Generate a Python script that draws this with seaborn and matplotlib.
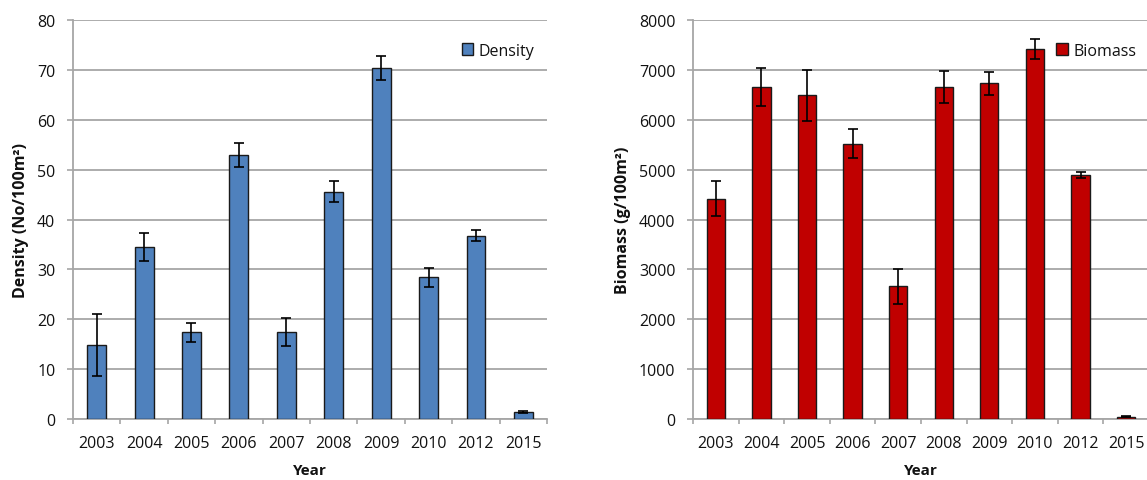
import matplotlib
matplotlib.use("Agg")
import matplotlib.pyplot as plt
import seaborn as sns
import pandas as pd
import numpy as np

years = ["2003", "2004", "2005", "2006", "2007", "2008", "2009", "2010", "2012", "2015"]
density = [14.8, 34.5, 17.4, 52.9, 17.4, 45.6, 70.3, 28.4, 36.7, 1.4]
density_err = [6.2, 2.8, 1.9, 2.35, 2.85, 2.1, 2.4, 1.85, 1.1, 0.25]
biomass = [4420, 6655, 6487, 5523, 2658, 6655, 6728, 7411, 4887, 47]
biomass_err = [355, 385, 520, 295, 355, 320, 225, 200, 60, 15]

sns.set_theme(style="white")
plt.rcParams["font.family"] = ["Open Sans", "DejaVu Sans"]

fig = plt.figure(figsize=(11.47, 4.81), dpi=100)
ax1 = fig.add_axes([0.0636, 0.1268, 0.4134, 0.8295])
ax2 = fig.add_axes([0.6042, 0.1268, 0.3975, 0.8295])

grid_c = "#a6a6a6"
text_c = "#111111"


def panel(ax, vals, errs, color, label, ymax, ystep, ylabel):
    df = pd.DataFrame({"Year": years, "Value": vals})
    sns.barplot(data=df, x="Year", y="Value", color=color, saturation=1,
                width=0.4, edgecolor="#1a1a1a", linewidth=1.0, ax=ax,
                label=label, zorder=3)
    ax.errorbar(np.arange(len(years)), vals, yerr=errs, fmt="none",
                ecolor="black", elinewidth=1.2, capsize=3.5, capthick=1.2,
                zorder=4)
    ax.set_xlim(-0.5, len(years) - 0.5)
    ax.set_ylim(0, ymax)
    ax.set_yticks(np.arange(0, ymax + 1, ystep))
    ax.yaxis.grid(True, color=grid_c, linewidth=1.3, zorder=0)
    ax.xaxis.grid(False)
    ax.set_axisbelow(True)
    for s in ["top", "right"]:
        ax.spines[s].set_visible(False)
    ax.spines["left"].set_color(grid_c)
    ax.spines["left"].set_linewidth(1.3)
    ax.spines["bottom"].set_color(grid_c)
    ax.spines["bottom"].set_linewidth(1.3)
    # category boundary ticks below the axis, labels centred on the bars
    ax.set_xticks(np.arange(len(years) + 1) - 0.5)
    ax.set_xticklabels([])
    ax.set_xticks(np.arange(len(years)), minor=True)
    ax.set_xticklabels(years, minor=True)
    ax.tick_params(axis="x", which="major", bottom=True, length=3.8,
                   width=1.2, color=grid_c, direction="out")
    ax.tick_params(axis="x", which="minor", bottom=True, length=0,
                   pad=11.5, labelsize=11.5, labelcolor=text_c)
    ax.tick_params(axis="y", left=True, length=4.2, width=1.2, color=grid_c,
                   direction="out", labelsize=11.5, labelcolor=text_c,
                   pad=8.5)
    ax.set_xlabel("Year", fontsize=11, fontweight="bold", color=text_c,
                  labelpad=9)
    ax.set_ylabel(ylabel, fontsize=11.5, fontweight="bold", color=text_c,
                  labelpad=6)
    leg = ax.legend(loc="upper right", frameon=False, fontsize=11.5,
                    handlelength=0.72, handleheight=0.72, handletextpad=0.35,
                    borderaxespad=0.4, bbox_to_anchor=(1.0, 0.975))
    for t in leg.get_texts():
        t.set_color(text_c)


panel(ax1, density, density_err, "#4f81bd", "Density", 80, 10,
      "Density (No/100m²)")
panel(ax2, biomass, biomass_err, "#c00000", "Biomass", 8000, 1000,
      "Biomass (g/100m²)")

fig.savefig("out.png", dpi=100, facecolor="white")
